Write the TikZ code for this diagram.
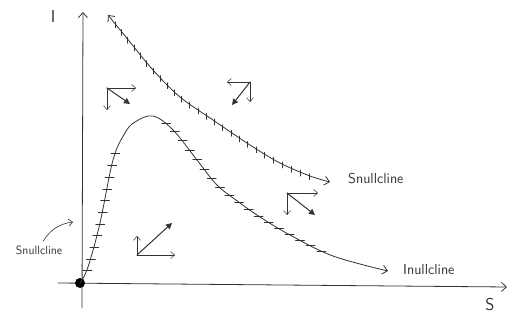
\documentclass[tikz,border=0pt]{standalone}
\usetikzlibrary{arrows.meta,decorations.markings}
\tikzset{
  pencil/.style={draw=black!80, line width=0.8pt, line cap=round},
  barb/.style={-{Straight Barb[length=5pt,width=9pt]}},
  flowthin/.style={pencil, line width=0.5pt, -{Straight Barb[length=4pt,width=7pt]}},
  flowbold/.style={pencil, line width=1pt, -{Triangle[length=6pt,width=6pt]}},
  vticks/.style={postaction={decorate, decoration={markings,
    mark=between positions #1 step 10pt with {\pgftransformresetnontranslations
      \draw[pencil, arrows=-, line width=0.6pt] (0,2pt) -- (0,-4pt);}}}},
  hticks/.style={postaction={decorate, decoration={markings,
    mark=between positions #1 step 12pt with {\pgftransformresetnontranslations
      \draw[pencil, arrows=-, line width=0.6pt] (-4pt,0) -- (5pt,0);}}}},
  hand/.style={font=\sffamily, text=black!80, inner sep=1pt}
}
\begin{document}
\begin{tikzpicture}[x=1pt, y=-1pt]
  \useasboundingbox (0,0) rectangle (509,320);
  % axes
  \coordinate (ybot) at (82,308);
  \coordinate (ytop) at (83,12);
  \coordinate (xleft) at (58,283);
  \coordinate (xright) at (507,287);
  \draw[pencil, barb] (ybot) -- (ytop);
  \draw[pencil, barb] (xleft) -- (xright);
  \node[hand, font=\sffamily\LARGE] (ylab) at (53,17) {I};
  \node[hand, font=\sffamily\LARGE] (xlab) at (490,305) {S};
  \node[circle, fill=black, inner sep=0pt, minimum size=10pt] (origin) at (80,283) {};
  % S nullcline (upper curve)
  \draw[pencil, {Straight Barb[length=5pt,width=9pt]}-{Straight Barb[length=5pt,width=9pt]},
        vticks={0.04 and 0.93}]
    plot[smooth, tension=0.6] coordinates {(108,15) (130,42) (153,70) (180,97) (213,120)
      (250,145) (280,163) (310,176) (330,182)};
  \node[hand, font=\sffamily\Large, anchor=west] (snull) at (347,179) {Snullcline};
  % I nullcline (lower curve)
  \draw[pencil, barb, hticks={0.03 and 0.3}, hticks={0.43 and 0.86}]
    plot[smooth, tension=0.6] coordinates {(80,283) (88,267) (100,223) (113,160) (125,133)
      (135,122) (153,116) (173,130) (197,160) (217,185) (240,203) (260,217) (290,235)
      (333,256) (388,271)};
  \node[hand, font=\sffamily\Large, anchor=west] (inull) at (402,270) {Inullcline};
  % left label pointing at the I axis
  \node[hand, font=\sffamily\large] (snullleft) at (39,250) {Snullcline};
  \coordinate (axispt) at (73,222);
  \draw[pencil, line width=0.6pt, -{Straight Barb[length=4pt,width=7pt]}]
    (snullleft.north) ++(4,-3) to[bend left=25] (axispt);
  % direction field
  \foreach \px/\py/\hx/\vy/\dx/\dy in {107/88/29/22/23/16, 250/82/-23/20/-18/23,
                                        287/193/31/22/28/22, 137/255/38/-19/35/-32} {
    \draw[flowthin] (\px,\py) -- ++(\hx,0);
    \draw[flowthin] (\px,\py) -- ++(0,\vy);
    \draw[flowbold] (\px,\py) -- ++(\dx,\dy);
  }
\end{tikzpicture}
\end{document}
